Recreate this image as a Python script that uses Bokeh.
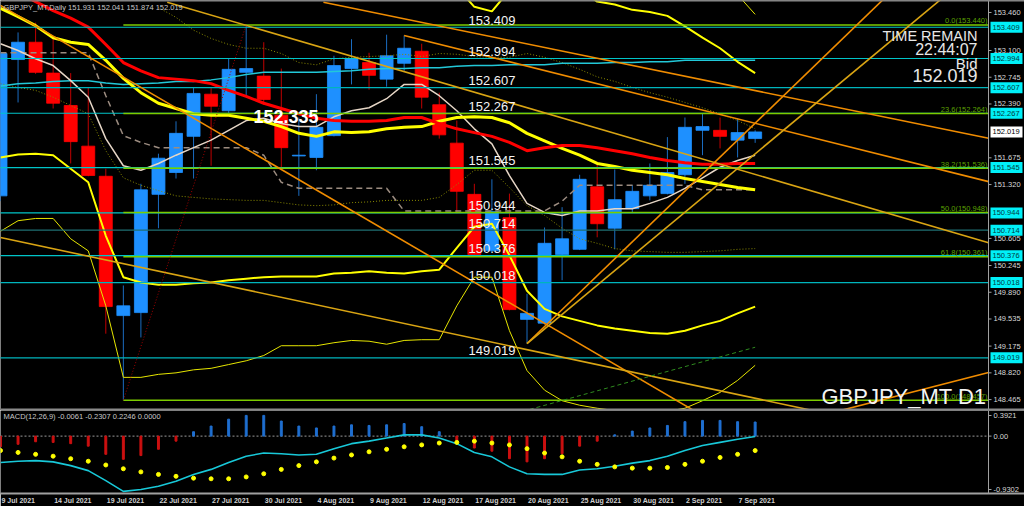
from bokeh.plotting import figure
from bokeh.models import Range1d, FixedTicker, Span, ColumnDataSource
from bokeh.layouts import column
from bokeh.embed import file_html
from bokeh.resources import INLINE
from bokeh.core.properties import value

NaN = float("nan")

# ---------------- data ----------------
dates = ["9 Jul 2021", "12 Jul 2021", "13 Jul 2021", "14 Jul 2021", "15 Jul 2021", "16 Jul 2021",
         "19 Jul 2021", "20 Jul 2021", "21 Jul 2021", "22 Jul 2021", "23 Jul 2021", "26 Jul 2021",
         "27 Jul 2021", "28 Jul 2021", "29 Jul 2021", "30 Jul 2021", "2 Aug 2021", "3 Aug 2021",
         "4 Aug 2021", "5 Aug 2021", "6 Aug 2021", "9 Aug 2021", "10 Aug 2021", "11 Aug 2021",
         "12 Aug 2021", "13 Aug 2021", "16 Aug 2021", "17 Aug 2021", "18 Aug 2021", "19 Aug 2021",
         "20 Aug 2021", "23 Aug 2021", "24 Aug 2021", "25 Aug 2021", "26 Aug 2021", "27 Aug 2021",
         "30 Aug 2021", "31 Aug 2021", "1 Sep 2021", "2 Sep 2021", "3 Sep 2021", "6 Sep 2021",
         "7 Sep 2021", "8 Sep 2021"]

opens = [151.17, 152.98, 153.21, 152.80, 152.37, 151.83, 151.43, 149.58, 149.62, 151.19, 151.48,
         151.96, 152.52, 152.30, 152.81, 152.76, 152.24, 151.70, 151.68, 151.97, 152.86, 152.94,
         152.72, 152.93, 153.09, 152.38, 151.87, 151.19, 150.44, 150.88, 149.53, 149.48, 150.39,
         150.46, 151.29, 150.74, 151.00, 151.17, 151.20, 151.45, 152.04, 152.04, 151.91, 151.931]
highs = [153.10, 153.34, 153.47, 153.27, 152.80, 152.61, 151.53, 149.98, 151.33, 151.73, 152.16,
         152.61, 152.60, 152.99, 153.44, 153.21, 152.86, 152.21, 152.52, 153.03, 153.25, 153.07,
         153.31, 153.30, 153.19, 152.54, 152.17, 151.33, 151.39, 151.20, 149.87, 150.75, 151.02,
         151.45, 151.60, 151.52, 151.31, 151.60, 151.95, 152.21, 152.26, 152.21, 152.20, 152.041]
lows = [151.10, 152.41, 152.79, 152.33, 151.60, 151.43, 149.34, 148.457, 149.29, 150.74, 151.40,
        151.40, 151.57, 152.24, 152.50, 152.38, 151.55, 151.17, 151.51, 151.96, 152.65, 152.58,
        152.62, 152.83, 152.33, 151.93, 150.94, 150.38, 150.43, 149.65, 149.209, 149.46, 150.05,
        150.45, 150.62, 150.46, 150.95, 151.11, 151.19, 151.33, 151.71, 151.80, 151.68, 151.874]
closes = [153.06, 153.21, 152.81, 152.40, 151.89, 151.44, 149.70, 149.71, 151.25, 151.67, 152.00,
          152.53, 152.36, 152.85, 152.86, 152.45, 151.81, 151.71, 152.08, 152.90, 152.99, 152.77,
          153.03, 153.13, 152.48, 151.98, 151.23, 150.39, 150.96, 149.66, 149.61, 150.54, 150.60,
          151.39, 150.80, 151.12, 151.23, 151.31, 151.48, 152.08, 152.09, 151.96, 152.01, 152.019]

ma_red = [153.98, 153.87, 153.75, 153.63, 153.53, 153.41, 153.18, 152.94, 152.83, 152.74, 152.72,
          152.70, 152.66, 152.57, 152.49, 152.40, 152.33, 152.26, 152.20, 152.17, 152.16, 152.16,
          152.17, 152.21, 152.21, 152.13, 152.06, 152.01, 151.96, 151.88, 151.77, 151.81, 151.84,
          151.84, 151.81, 151.77, 151.73, 151.68, 151.64, 151.61, 151.59, 151.59, 151.60, 151.60]
ma_yellow = [153.66, 153.55, 153.43, 153.27, 153.21, 153.18, 152.97, 152.73, 152.54, 152.40, 152.33,
             152.26, 152.24, 152.24, 152.20, 152.16, 152.09, 152.00, 151.96, 152.02, 152.01, 152.02,
             152.06, 152.08, 152.09, 152.16, 152.21, 152.22, 152.21, 152.14, 152.00, 151.90, 151.80,
             151.71, 151.60, 151.56, 151.51, 151.48, 151.45, 151.40, 151.36, 151.32, 151.28, 151.25]
band1_lower = [151.68, 151.72, 151.73, 151.71, 151.53, 151.35, 150.64, 150.09, 150.02, 149.99, 149.99,
               150.01, 150.02, 150.05, 150.07, 150.09, 150.10, 150.10, 150.10, 150.14, 150.15, 150.17,
               150.15, 150.14, 150.17, 150.19, 150.48, 150.76, 150.80, 150.38, 149.91, 149.67, 149.57,
               149.51, 149.45, 149.41, 149.38, 149.35, 149.34, 149.38, 149.45, 149.51, 149.61, 149.70]
band1_upper = [155.64, 155.38, 155.13, 154.83, 154.89, 155.01, 155.30, 155.37, 155.06, 154.81, 154.67,
               154.51, 154.46, 154.43, 154.33, 154.23, 154.08, 153.90, 153.82, 153.90, 153.87, 153.87,
               153.97, 154.02, 154.01, 154.13, 153.94, 153.68, 153.62, 153.90, 154.09, 154.13, 154.03,
               153.91, 153.75, 153.71, 153.64, 153.61, 153.56, 153.42, 153.27, 153.13, 152.95, 152.80]
band2_lower = [150.70, 150.84, 150.87, 150.87, 150.60, 150.44, 149.71, 148.76, 148.76, 148.80, 148.82,
               148.86, 148.88, 148.93, 148.98, 149.05, 149.18, 149.18, 149.18, 149.22, 149.25, 149.24,
               149.20, 149.25, 149.26, 149.26, 149.71, 150.09, 150.09, 149.38, 148.85, 148.59, 148.45,
               148.39, 148.35, 148.32, 148.29, 148.29, 148.31, 148.35, 148.45, 148.56, 148.72, 148.92]
band2_upper = [156.62, 156.26, 155.99, 155.67, 155.82, 155.92, 156.23, 156.70, 156.32, 156.00, 155.84,
               155.66, 155.60, 155.55, 155.42, 155.27, 155.00, 154.82, 154.74, 154.82, 154.77, 154.80,
               154.92, 154.91, 154.92, 155.06, 154.71, 154.35, 154.33, 154.90, 155.15, 155.21, 155.15,
               155.03, 154.85, 154.80, 154.73, 154.67, 154.59, 154.45, 154.27, 154.08, 153.84, 153.58]
ma_beige = [153.19, 153.10, 152.99, 152.90, 152.70, 152.48, 151.93, 151.57, 151.51, 151.60, 151.71,
            151.81, 151.91, 152.04, 152.17, 152.20, 152.13, 152.09, 152.09, 152.22, 152.30, 152.34,
            152.46, 152.65, 152.65, 152.50, 152.30, 152.06, 151.86, 151.44, 151.07, 150.95, 150.91,
            150.97, 150.97, 151.00, 151.00, 151.07, 151.15, 151.27, 151.41, 151.55, 151.64, 151.71]
ma_cyan = [152.63, 152.66, 152.67, 152.69, 152.70, 152.70, 152.67, 152.65, 152.66, 152.67, 152.69,
           152.69, 152.71, 152.74, 152.78, 152.81, 152.81, 152.81, 152.81, 152.82, 152.83, 152.85,
           152.86, 152.86, 152.87, 152.87, 152.89, 152.90, 152.90, 152.91, 152.91, 152.91, 152.93,
           152.93, 152.93, 152.94, 152.94, 152.95, 152.95, 152.97, 152.97, 152.97, 152.97, 152.97]
dotted_lower = [152.66, 152.61, 152.57, 152.48, 152.37, 152.26, 151.77, 151.41, 151.31, 151.24, 151.17,
                151.15, 151.13, 151.12, 151.11, 151.11, 151.08, 151.05, 151.04, 151.05, 151.08, 151.09,
                151.11, 151.11, 151.11, 151.15, 151.32, 151.51, 151.51, 151.28, 151.04, 150.91, 150.74,
                150.60, 150.54, 150.47, 150.44, 150.43, 150.42, 150.42, 150.43, 150.44, 150.46, 150.47]
dotted_upper = [NaN, NaN, NaN, NaN, NaN, NaN, NaN, NaN, NaN, 153.67, 153.54,
                153.37, 153.26, 153.18, 153.13, 153.13, 153.06, 152.94, 152.91, 152.99, 153.01, 153.02,
                153.03, 153.05, 153.02, 153.06, 153.05, 153.02, 153.01, 153.01, 153.06, 153.01, 152.94,
                152.85, 152.75, 152.69, 152.61, 152.54, 152.48, 152.41, 152.34, 152.26, 152.17, 152.06]
kijun = [153.07, 153.07, 153.07, 153.07, 153.07, 153.07, 152.50, 151.97, 151.88, 151.81, 151.81,
         151.81, 151.81, 151.81, 151.81, 151.71, 151.35, 151.27, 151.27, 151.27, 151.27, 151.27,
         151.27, 150.97, 150.97, 150.97, 150.97, 150.97, 150.97, 150.97, 150.97, 150.97, 151.10,
         151.31, 151.31, 151.31, 151.31, 151.31, 151.31, 151.31, 151.25, 151.25, 151.25, 151.25]

macd_main = [-0.42, -0.40, -0.39, -0.41, -0.47, -0.55, -0.71, -0.88, -0.85, -0.80, -0.72, -0.61, -0.53,
             -0.42, -0.32, -0.27, -0.28, -0.30, -0.29, -0.20, -0.12, -0.08, -0.03, 0.02, 0.02, -0.03,
             -0.12, -0.26, -0.33, -0.49, -0.60, -0.61, -0.61, -0.54, -0.52, -0.48, -0.43, -0.39, -0.32,
             -0.23, -0.15, -0.10, -0.05, -0.0061]
macd_signal = [-0.23, -0.26, -0.29, -0.32, -0.36, -0.40, -0.46, -0.52, -0.57, -0.61, -0.64, -0.67, -0.68,
               -0.68, -0.65, -0.60, -0.53, -0.47, -0.41, -0.35, -0.30, -0.25, -0.21, -0.17, -0.14, -0.11,
               -0.10, -0.08, -0.11, -0.14, -0.20, -0.27, -0.33, -0.40, -0.45, -0.49, -0.51, -0.51, -0.50,
               -0.45, -0.40, -0.34, -0.29, -0.2307]
macd_hist = [-0.17, -0.13, -0.09, -0.10, -0.12, -0.16, -0.29, -0.37, -0.31, -0.21, -0.08, 0.07, 0.16,
             0.27, 0.33, 0.33, 0.24, 0.16, 0.13, 0.16, 0.18, 0.17, 0.18, 0.20, 0.15, 0.07, -0.12, -0.19,
             -0.24, -0.36, -0.41, -0.36, -0.28, -0.16, -0.08, 0.02, 0.08, 0.13, 0.17, 0.23, 0.25, 0.25,
             0.23, 0.2246]

hline_levels = [153.409, 152.994, 152.607, 152.267, 151.545, 150.944, 150.714, 150.376, 150.018, 149.019]
hline_colors = ["#00c4c8", "#00c4c8", "#00b4bc", "#00c4c8", "#00c4c8", "#00c4c8", "#1f6f72",
                "#00c4c8", "#00b4bc", "#00b4bc"]
fib_pcts = ["0.0", "23.6", "38.2", "50.0", "61.8", "100.0"]
fib_levels = [153.440, 152.264, 151.536, 150.948, 150.361, 148.457]
fib_start_bar = 7
price_ticks = [153.460, 153.100, 152.745, 152.390, 151.675, 151.320, 150.605, 150.245, 149.890,
               149.535, 149.175, 148.820, 148.465]
macd_tick_text = ["0.3921", "0.00", "-0.9302"]

# trend lines: (bar0, price0) -> (bar1, price1)
trend_x0 = [18.4, 23.0, 9.5, 0.0, 0.0, 40.0, 30.0, 30.0]
trend_y0 = [153.74, 153.30, 153.74, 153.70, 150.617, 147.85, 149.209, 149.209]
trend_x1 = [56.3, 56.3, 56.3, 41.0, 56.3, 56.3, 51.0, 54.0]
trend_y1 = [151.934, 151.359, 150.548, 148.116, 147.822, 148.824, 153.936, 153.86]
trend_colors = ["#f08c00", "#f08c00", "#d9a413", "#f08c00", "#d9a413", "#f08c00", "#f08c00", "#d9a413"]
green_dash_x, green_dash_y = [29.0, 43.0], [148.26, 149.16]
fib_diag_x, fib_diag_y = [7.0, 14.0], [148.457, 153.44]

symbol = "GBPJPY_MT"
time_remain = "22:44:07"

# ---------------- geometry (reference pixels -> data) ----------------
PXB = 17.55                          # px per bar
X0 = 0.0
X1 = 1024 / PXB
X_AX = 988 / PXB                     # price-scale line
Y_TOP = 153.764
PXP = 0.013278                       # price per px
Y_BOT = Y_TOP - 410 * PXP
MPX = 0.015931                       # macd units per px
M_TOP = 0.3921 + 1 * MPX
M_BOT = M_TOP - 83 * MPX
FONT = "Liberation Sans"
GREY = "#a0a0a0"


def bx(px):
    return px / PXB


def py(px):
    return Y_TOP - px * PXP


def my(px):
    return M_TOP - (px - 411) * MPX


idx = list(range(len(opens)))

# ---------------- price panel ----------------
p = figure(frame_width=1024, frame_height=410, x_range=Range1d(X0, X1), y_range=Range1d(Y_BOT, Y_TOP),
           output_backend="svg", toolbar_location=None, x_axis_location=None, y_axis_location=None,
           background_fill_color="black", border_fill_color="black", outline_line_color=None,
           min_border_left=0, min_border_right=0, min_border_top=0, min_border_bottom=0)
p.grid.visible = False

bull = [c >= o for o, c in zip(opens, closes)]
src = ColumnDataSource(dict(
    x=idx, o=opens, h=highs, l=lows, c=closes,
    top=[max(o, c) for o, c in zip(opens, closes)],
    bottom=[min(o, c) for o, c in zip(opens, closes)],
    body=["#1e90ff" if b else "#ff0000" for b in bull],
    wick=["#1a6cc0" if b else "#c00000" for b in bull],
))
p.segment(x0="x", y0="l", x1="x", y1="h", line_color="wick", line_width=1, source=src)
p.vbar(x="x", width=0.74, top="top", bottom="bottom", fill_color="body", line_color="body",
       line_width=0.8, source=src)

# indicators
p.line(idx, dotted_lower, line_color="#8a8a00", line_width=1, line_dash="1 2")
p.line(idx, dotted_upper, line_color="#8a8a00", line_width=1, line_dash="1 2")
p.line(idx, kijun, line_color="#9c8c80", line_width=1.5, line_dash="6 4")
p.line(idx, ma_cyan, line_color="#22c8d8", line_width=1.5)
p.line(idx, band2_lower, line_color="#e6e600", line_width=1)
p.line(idx, band2_upper, line_color="#e6e600", line_width=1)
p.line(idx, band1_lower, line_color="#ffff00", line_width=2)
p.line(idx, band1_upper, line_color="#ffff00", line_width=2)
p.line(idx, ma_beige, line_color="#e6d6c6", line_width=1.5)
p.line(idx, ma_yellow, line_color="#ffff00", line_width=3)
p.line(idx, ma_red, line_color="#ff0000", line_width=3)

# horizontal levels
nh = len(hline_levels)
p.segment(x0=[X0 - 1] * nh, y0=hline_levels, x1=[X_AX] * nh, y1=hline_levels,
          line_color=hline_colors, line_width=1.2)
nf = len(fib_levels)
p.segment(x0=[fib_start_bar] * nf, y0=fib_levels, x1=[X_AX] * nf, y1=fib_levels,
          line_color="#7ccc00", line_width=1.5)
p.text(x=[X_AX - bx(1)] * nf, y=fib_levels,
       text=[f"{a}({b:.3f})" for a, b in zip(fib_pcts, fib_levels)],
       text_align="right", text_baseline="middle", y_offset=-4,
       text_color="#5ca000", text_font=value(FONT), text_font_size="7.5px")

# trend lines
p.segment(x0=trend_x0, y0=trend_y0, x1=trend_x1, y1=trend_y1, line_color=trend_colors, line_width=1.6)
p.line(green_dash_x, green_dash_y, line_color="#2f8a1f", line_width=1, line_dash="4 3")
p.line(fib_diag_x, fib_diag_y, line_color="#a00000", line_width=1, line_dash="1 2")

# level labels in chart
p.text(x=[bx(468)] * nh, y=hline_levels, text=[f"{v:.3f}" for v in hline_levels],
       text_align="left", text_baseline="middle", y_offset=-7,
       text_color="#f4f4f4", text_font=value(FONT), text_font_size="13px")
p.text(x=[bx(253)], y=[152.335], text=["152.335"], text_align="left", text_baseline="top", y_offset=2,
       text_color="#ffffff", text_font=value(FONT), text_font_style="bold", text_font_size="18px")

# info texts
hdr = f"{symbol},Daily  {opens[-1]:.3f} {highs[-1]:.3f} {lows[-1]:.3f} {closes[-1]:.3f}"
p.text(x=[bx(3)], y=[py(2)], text=[hdr], text_baseline="top", text_align="left",
       text_color="#c8c8c8", text_font=value(FONT), text_font_size="7.5px")
p.text(x=[bx(977)] * 4, y=[py(35.5), py(48.5), py(62.5), py(75)],
       text=["TIME REMAIN", time_remain, "Bid", f"{closes[-1]:.3f}"],
       text_align="right", text_baseline="middle", text_color="#e8e8e8",
       text_font=value(FONT), text_font_size=["14.5px", "16px", "15px", "18px"])
p.text(x=[bx(986)], y=[py(396)], text=[f"{symbol} D1"], text_align="right",
       text_baseline="middle", text_color="#f4f4f4", text_font=value(FONT), text_font_size="22px")

# price scale (right side)
p.add_layout(Span(location=X_AX, dimension="height", line_color=GREY, line_width=1))
tick_pos = [py(12) if t == price_ticks[0] else t for t in price_ticks]
nt = len(price_ticks)
p.segment(x0=[X_AX] * nt, y0=tick_pos, x1=[X_AX + bx(3)] * nt, y1=tick_pos, line_color=GREY)
p.text(x=[X_AX + bx(5)] * nt, y=tick_pos, text=[f"{t:.3f}" for t in price_ticks],
       text_align="left", text_baseline="middle", text_color="#d8d8d8",
       text_font=value(FONT), text_font_size="7.5px")

# level boxes on the price scale
p.quad(left=[X_AX + bx(2)] * nh, right=[X_AX + bx(34)] * nh,
       top=[v + 5.5 * PXP for v in hline_levels], bottom=[v - 5.5 * PXP for v in hline_levels],
       fill_color="#00f0f8", line_color=None)
p.text(x=[X_AX + bx(4)] * nh, y=hline_levels, text=[f"{v:.3f}" for v in hline_levels],
       text_align="left", text_baseline="middle", text_color="#003c40",
       text_font=value(FONT), text_font_size="7.5px")
p.quad(left=[X_AX + bx(2)], right=[X_AX + bx(34)], top=[closes[-1] + 5.5 * PXP],
       bottom=[closes[-1] - 5.5 * PXP], fill_color="#ffffff", line_color=None)
p.text(x=[X_AX + bx(4)], y=[closes[-1]], text=[f"{closes[-1]:.3f}"], text_align="left",
       text_baseline="middle", text_color="#000000", text_font=value(FONT), text_font_size="7.5px")

p.add_layout(Span(location=Y_TOP, dimension="width", line_color="#8a8a8a", line_width=2))
p.add_layout(Span(location=py(409), dimension="width", line_color="#8a8a8a", line_width=2))

# ---------------- MACD panel ----------------
m = figure(frame_width=1024, frame_height=83, x_range=p.x_range, y_range=Range1d(M_BOT, M_TOP),
           output_backend="svg", toolbar_location=None, y_axis_location=None, x_axis_location="below",
           background_fill_color="black", border_fill_color="black", outline_line_color=None,
           min_border_left=0, min_border_right=0, min_border_top=0, min_border_bottom=0)
m.grid.visible = False

# date labels: MT4 writes each date to the right of its bar; the axis centres labels,
# so each tick sits half a label width to the right of its bar.
CHAR_W = {" ": 0.278, "J": 0.556, "u": 0.611, "l": 0.278, "A": 0.722, "g": 0.611,
          "S": 0.667, "e": 0.556, "p": 0.611}
DATE_PX = 7.0


def label_px(s):
    return sum(CHAR_W.get(ch, 0.556) for ch in s) * DATE_PX


tick_idx = list(range(0, len(dates) - 1, 3))
tick_at = [i + (label_px(dates[i]) / 2 + 1) / PXB for i in tick_idx]
xa = m.xaxis[0]
xa.ticker = FixedTicker(ticks=tick_at)
xa.major_label_overrides = {t: dates[i] for t, i in zip(tick_at, tick_idx)}
xa.major_label_text_font_style = "bold"
xa.major_label_text_color = "#d0d0d0"
xa.major_label_text_font = FONT
xa.major_label_text_font_size = "7px"
xa.major_label_standoff = 3
xa.axis_line_color = GREY
xa.axis_line_width = 2
xa.major_tick_line_color = None
xa.major_tick_out = 0
xa.major_tick_in = 0
xa.minor_tick_line_color = None

m.segment(x0=[X0], y0=[0], x1=[X_AX], y1=[0], line_color="#9a9a9a", line_width=1, line_dash="2 2")
m.vbar(x=idx, top=macd_hist, bottom=0, width=0.11,
       color=["#1f6fd0" if h >= 0 else "#cc1010" for h in macd_hist])
m.line(idx, macd_main, line_color="#18c8d8", line_width=1.6)
m.scatter(idx, macd_signal, size=4, color="#ffff00")
mlabel = f"MACD(12,26,9) {macd_main[-1]:.4f} {macd_signal[-1]:.4f} {macd_hist[-1]:.4f} 0.0000"
m.text(x=[bx(3)], y=[my(412)], text=[mlabel], text_baseline="top", text_align="left",
       text_color="#c8c8c8", text_font=value(FONT), text_font_size="7.5px")

m.add_layout(Span(location=X_AX, dimension="height", line_color=GREY, line_width=1))
mtick_pos = [my(416), 0.0, my(490)]
m.segment(x0=[X_AX] * 3, y0=mtick_pos, x1=[X_AX + bx(3)] * 3, y1=mtick_pos, line_color=GREY)
m.text(x=[X_AX + bx(5)] * 3, y=mtick_pos, text=macd_tick_text, text_align="left",
       text_baseline="middle", text_color="#d8d8d8", text_font=value(FONT), text_font_size="7.5px")

layout = column(p, m)
open("out.html", "w").write(file_html(layout, INLINE, title="GBPJPY D1"))
